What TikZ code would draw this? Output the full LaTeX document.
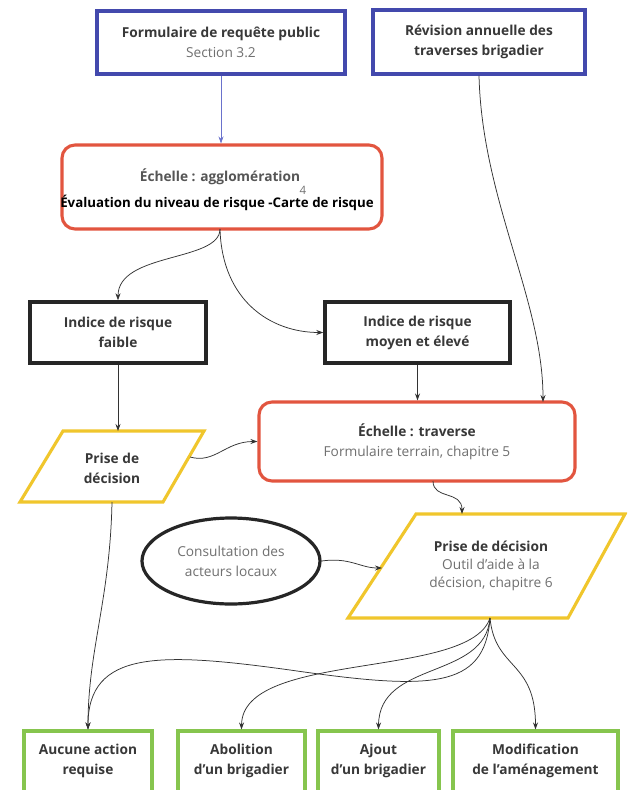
\documentclass[tikz,border=0pt]{standalone}
\usepackage{fontspec}
\setmainfont{Open Sans}
\usetikzlibrary{arrows.meta,shapes.geometric}
\definecolor{cblue}{HTML}{4349AD}
\definecolor{cred}{HTML}{E2553F}
\definecolor{cyel}{HTML}{F0C62C}
\definecolor{cgreen}{HTML}{86C54E}
\definecolor{ctitle}{HTML}{383838}
\definecolor{csub}{HTML}{707070}
\definecolor{cline}{HTML}{333333}
\definecolor{carrblue}{HTML}{6A72CC}
\begin{document}
\begin{tikzpicture}[x=1pt,y=-1pt,
  every node/.style={font=\fontsize{13.7}{20}\selectfont, align=center, inner sep=0pt, text=ctitle},
  bluebox/.style={draw=cblue, line width=3.1pt, rectangle},
  redbox/.style={draw=cred, line width=3.1pt, rectangle, rounded corners=13pt},
  blackbox/.style={draw=black!85, line width=3.4pt, rectangle},
  greenbox/.style={draw=cgreen, line width=3.1pt, rectangle},
  yelshape/.style={draw=cyel, line width=3.1pt, line join=miter},
  arr/.style={draw=cline, line width=0.75pt, -{Stealth[length=7pt,width=5pt]}},
  bluearr/.style={draw=carrblue, line width=0.8pt, -{Stealth[length=7pt,width=5pt]}}
]
\useasboundingbox (0,0) rectangle (627,790);
\clip (0,0) rectangle (627,790);
\fill[white] (0,0) rectangle (627,790);

% top boxes
\node[bluebox, minimum width=248pt, minimum height=63pt] (form) at (221,42.5)
  {\bfseries Formulaire de requête public\\{\color{csub}\mdseries Section 3.2}};
\node[bluebox, minimum width=212pt, minimum height=64pt] (rev) at (479,42)
  {\bfseries Révision annuelle des\\\bfseries traverses brigadier};

% agglomeration
\node[redbox, minimum width=320pt, minimum height=84pt] (agglo) at (222,187) {};
\node[text=ctitle!85] (aggloT) at (220,177) {\bfseries Échelle : agglomération};
\node[text=csub, font=\fontsize{11.5}{13}\selectfont] (four) at (303,190) {4};
\node[text=black, font=\fontsize{13.3}{15}\selectfont\bfseries] (evalT) at (217,203)
  {Évaluation du niveau de risque -Carte de risque};
\coordinate (aggS) at (220,229);

% indices
\node[blackbox, minimum width=176pt, minimum height=61pt] (faible) at (118,332.5)
  {\bfseries Indice de risque\\\bfseries faible};
\node[blackbox, minimum width=185pt, minimum height=61pt] (moyen) at (417.5,332.5)
  {\bfseries Indice de risque\\\bfseries moyen et élevé};

% traverse
\node[redbox, minimum width=316pt, minimum height=79pt] (trav) at (417,441.5)
  {\bfseries Échelle : traverse\\{\color{csub}Formulaire terrain, chapitre 5}};

% left decision parallelogram
\draw[yelshape] (63,431) -- (204,431) -- (163,502) -- (20,502) -- cycle;
\node (pd1) at (112,468) {\bfseries Prise de\\\bfseries décision};
\coordinate (p1top) at (118,431);
\coordinate (p1r) at (190,457);
\coordinate (p1b) at (112,502);

% consultation ellipse
\node[ellipse, draw=black!85, line width=3.2pt, minimum width=178pt, minimum height=86pt, text=csub] (cons) at (231,561)
  {Consultation des\\acteurs locaux};

% right decision parallelogram
\draw[yelshape] (416,514) -- (625,514) -- (568,618) -- (348,618) -- cycle;
\node (pd2) at (491,566) {\bfseries Prise de décision\\[-2pt]{\color{csub}Outil d’aide à la}\\[-2pt]{\color{csub}décision, chapitre 6}};
\coordinate (p2top) at (462,514);
\coordinate (p2l) at (382,568);
\coordinate (p2b) at (490,618);

% bottom boxes
\node[greenbox, minimum width=128pt, minimum height=90pt] (b1) at (88,776) {};
\node[greenbox, minimum width=127pt, minimum height=90pt] (b2) at (241.5,776) {};
\node[greenbox, minimum width=121pt, minimum height=90pt] (b3) at (378.5,776) {};
\node[greenbox, minimum width=165pt, minimum height=90pt] (b4) at (535.5,776) {};
\node (t1) at (88,761) {\bfseries Aucune action\\\bfseries requise};
\node (t2) at (241.5,761) {\bfseries Abolition\\\bfseries d'un brigadier};
\node (t3) at (378.5,761) {\bfseries Ajout\\\bfseries d'un brigadier};
\node (t4) at (535.5,761) {\bfseries Modification\\\bfseries de l’aménagement};

% connectors
\draw[bluearr] (form.south) -- (form.south |- agglo.north);
\draw[arr] (rev.south) .. controls (482,200) and (543,300) .. (543,402);
\draw[arr] (aggS) .. controls (220,262) and (118,252) .. (faible.north);
\draw[arr] (aggS) .. controls (222,300) and (270,332.5) .. (moyen.west);
\draw[arr] (faible.south) -- (p1top);
\draw[arr] (moyen.south) -- (moyen.south |- trav.north);
\draw[arr] (p1r) .. controls (215,464) and (225,441.5) .. (trav.west);
\draw[arr] (433,481) .. controls (433,500) and (462,490) .. (p2top);
\draw[arr] (cons.east) .. controls (350,557) and (360,568) .. (p2l);
\draw[arr] (p1b) .. controls (110,600) and (88,650) .. (b1.north);
\draw[arr] (p2b) .. controls (485,690) and (430,690) .. (290,670) .. controls (160,652) and (88,650) .. (b1.north);
\draw[arr] (p2b) .. controls (470,680) and (242,650) .. (b2.north);
\draw[arr] (p2b) .. controls (485,680) and (379,660) .. (b3.north);
\draw[arr] (p2b) .. controls (495,670) and (535.5,660) .. (b4.north);
\end{tikzpicture}
\end{document}
